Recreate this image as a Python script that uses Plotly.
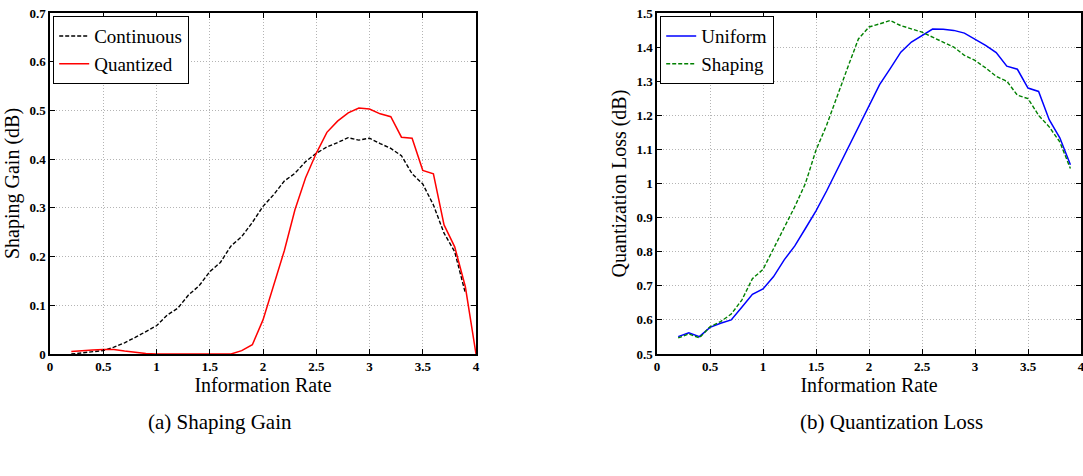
import plotly.graph_objects as go

# ---- data: Shaping Gain (left) ----
rate_cont = [0.2, 0.3, 0.4, 0.5, 0.6, 0.7, 0.8, 0.9, 1.0, 1.1, 1.2, 1.3, 1.4, 1.5, 1.6, 1.7, 1.8, 1.9,
             2.0, 2.1, 2.2, 2.3, 2.4, 2.5, 2.6, 2.7, 2.8, 2.9, 3.0, 3.1, 3.2, 3.3, 3.4, 3.5, 3.6, 3.7, 3.8, 3.9]
gain_cont = [0.000, 0.002, 0.004, 0.007, 0.014, 0.023, 0.034, 0.046, 0.058, 0.080, 0.094, 0.121, 0.140,
             0.169, 0.188, 0.222, 0.241, 0.270, 0.303, 0.327, 0.355, 0.371, 0.395, 0.412, 0.425, 0.434,
             0.444, 0.439, 0.443, 0.432, 0.422, 0.407, 0.370, 0.349, 0.306, 0.248, 0.210, 0.125]

rate_quant = [0.2, 0.3, 0.4, 0.5, 0.6, 0.7, 0.8, 0.9, 1.0, 1.1, 1.2, 1.3, 1.4, 1.5, 1.6, 1.7, 1.8, 1.9,
              2.0, 2.1, 2.2, 2.3, 2.4, 2.5, 2.6, 2.7, 2.8, 2.9, 3.0, 3.1, 3.2, 3.3, 3.4, 3.5, 3.6, 3.7,
              3.8, 3.9, 4.0]
gain_quant = [0.005, 0.007, 0.008, 0.009, 0.009, 0.006, 0.003, 0.001, 0.0, 0.0, 0.0, 0.0, 0.0, 0.0, 0.0,
              0.0, 0.007, 0.019, 0.070, 0.140, 0.212, 0.296, 0.362, 0.412, 0.455, 0.478, 0.495, 0.505,
              0.503, 0.493, 0.487, 0.445, 0.443, 0.377, 0.370, 0.265, 0.220, 0.138, 0.0]

# ---- data: Quantization Loss (right) ----
rate_loss = [0.2, 0.3, 0.4, 0.5, 0.6, 0.7, 0.8, 0.9, 1.0, 1.1, 1.2, 1.3, 1.4, 1.5, 1.6, 1.7, 1.8, 1.9,
             2.0, 2.1, 2.2, 2.3, 2.4, 2.5, 2.6, 2.7, 2.8, 2.9, 3.0, 3.1, 3.2, 3.3, 3.4, 3.5, 3.6, 3.7,
             3.8, 3.9]
loss_uniform = [0.551, 0.562, 0.551, 0.578, 0.590, 0.600, 0.637, 0.675, 0.691, 0.727, 0.776, 0.817,
                0.868, 0.920, 0.978, 1.040, 1.102, 1.166, 1.224, 1.290, 1.337, 1.385, 1.415, 1.435,
                1.453, 1.452, 1.449, 1.441, 1.423, 1.405, 1.384, 1.344, 1.335, 1.280, 1.270, 1.187,
                1.134, 1.055]
loss_shaping = [0.547, 0.559, 0.547, 0.580, 0.595, 0.617, 0.658, 0.721, 0.748, 0.809, 0.873, 0.932,
                1.000, 1.098, 1.171, 1.259, 1.341, 1.424, 1.459, 1.468, 1.478, 1.463, 1.454, 1.444,
                1.429, 1.415, 1.400, 1.376, 1.361, 1.339, 1.314, 1.300, 1.259, 1.249, 1.200, 1.166,
                1.122, 1.044]

x_ticks = [0, 0.5, 1, 1.5, 2, 2.5, 3, 3.5, 4]
x_ticktext = ["0", "0.5", "1", "1.5", "2", "2.5", "3", "3.5", "4"]
gain_ticks = [0, 0.1, 0.2, 0.3, 0.4, 0.5, 0.6, 0.7]
gain_ticktext = ["0", "0.1", "0.2", "0.3", "0.4", "0.5", "0.6", "0.7"]
loss_ticks = [0.5, 0.6, 0.7, 0.8, 0.9, 1.0, 1.1, 1.2, 1.3, 1.4, 1.5]
loss_ticktext = ["0.5", "0.6", "0.7", "0.8", "0.9", "1", "1.1", "1.2", "1.3", "1.4", "1.5"]

FONT = "Liberation Serif"
W, H = 1083, 476

fig = go.Figure()
fig.add_trace(go.Scatter(x=rate_cont, y=gain_cont, mode="lines", name="Continuous",
                         line=dict(color="black", width=1.4, dash="4px,2px"),
                         xaxis="x", yaxis="y", legend="legend"))
fig.add_trace(go.Scatter(x=rate_quant, y=gain_quant, mode="lines", name="Quantized",
                         line=dict(color="#ff0000", width=1.5),
                         xaxis="x", yaxis="y", legend="legend"))
fig.add_trace(go.Scatter(x=rate_loss, y=loss_uniform, mode="lines", name="Uniform",
                         line=dict(color="#0000ff", width=1.5),
                         xaxis="x2", yaxis="y2", legend="legend2"))
fig.add_trace(go.Scatter(x=rate_loss, y=loss_shaping, mode="lines", name="Shaping",
                         line=dict(color="#008000", width=1.4, dash="4px,2px"),
                         xaxis="x2", yaxis="y2", legend="legend2"))

y0 = (H - 354) / H
y1 = (H - 13) / H
lx0, lx1 = 50 / W, 476 / W
rx0, rx1 = 657 / W, 1081 / W

common = dict(showline=True, linecolor="black", linewidth=1.5, mirror="allticks",
              ticks="inside", ticklen=5, tickwidth=1, tickcolor="black",
              showgrid=True, gridcolor="#b4b4b4", gridwidth=1, griddash="1px,2px",
              zeroline=False, automargin=False, ticklabeloverflow="allow",
              tickfont=dict(family=FONT, size=13, color="black", weight="bold"))

title_font = dict(family=FONT, size=20, color="black")
legend_font = dict(family=FONT, size=19, color="black")

fig.update_layout(
    width=W, height=H,
    margin=dict(l=0, r=0, t=0, b=0, autoexpand=False),
    paper_bgcolor="white", plot_bgcolor="white",
    font=dict(family=FONT, color="black"),
    showlegend=True,
    xaxis=dict(domain=[lx0, lx1], range=[0, 4], anchor="y",
               tickvals=x_ticks, ticktext=x_ticktext,
               title=dict(text="Information Rate", font=title_font, standoff=0), **common),
    yaxis=dict(domain=[y0, y1], range=[0, 0.7], anchor="x",
               tickvals=gain_ticks, ticktext=gain_ticktext,
               title=dict(text="Shaping Gain (dB)", font=title_font, standoff=4), **common),
    xaxis2=dict(domain=[rx0, rx1], range=[0, 4], anchor="y2",
                tickvals=x_ticks, ticktext=x_ticktext,
                title=dict(text="Information Rate", font=title_font, standoff=0), **common),
    yaxis2=dict(domain=[y0, y1], range=[0.5, 1.5], anchor="x2",
                tickvals=loss_ticks, ticktext=loss_ticktext,
                title=dict(text="Quantization Loss (dB)", font=title_font, standoff=4), **common),
    legend=dict(x=lx0 + 3 / W, y=y1 - 3 / H, xanchor="left", yanchor="top",
                bgcolor="white", bordercolor="black", borderwidth=1.2,
                font=legend_font, tracegroupgap=0, itemwidth=30),
    legend2=dict(x=rx0 + 3 / W, y=y1 - 3 / H, xanchor="left", yanchor="top",
                 bgcolor="white", bordercolor="black", borderwidth=1.2,
                 font=legend_font, tracegroupgap=0, itemwidth=30),
    annotations=[
        dict(text="(a) Shaping Gain", x=220 / W, y=(H - 422) / H, xref="paper", yref="paper",
             showarrow=False, xanchor="center", yanchor="middle",
             font=dict(family=FONT, size=21, color="black")),
        dict(text="(b) Quantization Loss", x=891 / W, y=(H - 422) / H, xref="paper", yref="paper",
             showarrow=False, xanchor="center", yanchor="middle",
             font=dict(family=FONT, size=21, color="black")),
    ],
)

fig.write_html("out.html")
